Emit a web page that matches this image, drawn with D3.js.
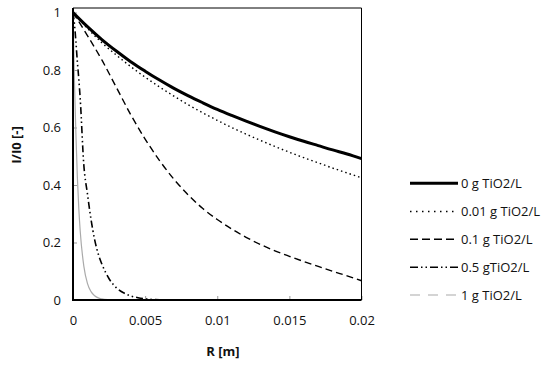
<!DOCTYPE html>
<html><head><meta charset="utf-8">
<script src="https://cdn.jsdelivr.net/npm/d3@7"></script>
<style>body{margin:0;background:#fff}svg{display:block}</style>
</head><body>
<svg id="c" width="550" height="365"></svg>
<script>
// ---- data ----
const rCoarse = [0,0.001,0.002,0.003,0.004,0.005,0.006,0.007,0.008,0.009,0.010,0.011,0.012,0.013,0.014,0.015,0.016,0.017,0.018,0.019,0.020];
const s0   = [1.0,0.951,0.906,0.866,0.829,0.796,0.765,0.736,0.710,0.686,0.663,0.642,0.622,0.603,0.585,0.568,0.552,0.537,0.522,0.508,0.492];
const s001 = [1.0,0.945,0.895,0.852,0.812,0.775,0.741,0.709,0.679,0.651,0.625,0.600,0.577,0.555,0.534,0.514,0.495,0.477,0.459,0.442,0.425];
const s01  = [1.0,0.920,0.835,0.740,0.645,0.560,0.485,0.420,0.365,0.318,0.280,0.247,0.218,0.193,0.171,0.152,0.134,0.117,0.100,0.084,0.067];
const rFine = [0,0.0001,0.0002,0.0003,0.0004,0.0005,0.00075,0.001,0.00125,0.0015,0.00175,0.002,0.0025,0.003,0.0035,0.004,0.0045,0.005,0.006,0.008,0.010,0.012,0.014,0.016,0.018,0.020];
const s05  = [1.0,0.96,0.90,0.83,0.77,0.70,0.47,0.37,0.28,0.21,0.16,0.125,0.074,0.043,0.025,0.014,0.008,0.004,0.001,0,0,0,0,0,0,0];
const s1   = [1.0,0.76,0.58,0.43,0.32,0.24,0.118,0.058,0.029,0.015,0.0075,0.004,0.0012,0,0,0,0,0,0,0,0,0,0,0,0,0];
const seriesNames = ["0 g TiO2/L","0.01 g TiO2/L","0.1 g TiO2/L","0.5 gTiO2/L","1 g TiO2/L"];
const xTicks = [0,0.005,0.01,0.015,0.02];
const xTickLabels = ["0","0.005","0.01","0.015","0.02"];
const yTicks = [0,0.2,0.4,0.6,0.8,1];
const yTickLabels = ["0","0.2","0.4","0.6","0.8","1"];

const series = [
  {name:seriesNames[0], r:rCoarse, v:s0,   color:"#000", w:3,   dash:null,          legDash:null},
  {name:seriesNames[1], r:rCoarse, v:s001, color:"#000", w:1.4, dash:"1.5,3",       legDash:"1.5,4.5"},
  {name:seriesNames[2], r:rCoarse, v:s01,  color:"#000", w:1.4, dash:"7,4",         legDash:"8,4"},
  {name:seriesNames[3], r:rFine,   v:s05,  color:"#000", w:1.6, dash:"7,3,1.5,3,1.5,3", legDash:"8,3,1.5,3,1.5,3"},
  {name:seriesNames[4], r:rFine,   v:s1,   color:"#aaaaaa", w:1.2, dash:null,     legDash:"10,8"}
];

const font = "'Open Sans', sans-serif";
const L=73, R=361.5, T=8, B=300;
const x = d3.scaleLinear().domain([0,0.02]).range([L,R]);
const y = d3.scaleLinear().domain([0,1.0157]).range([B,T]);
const svg = d3.select("#c");

// ticks inside
const gx = svg.append("g").attr("transform",`translate(0,${B})`)
  .call(d3.axisBottom(x).tickValues(xTicks).tickFormat((d,i)=>xTickLabels[i]).tickSizeInner(-4).tickSizeOuter(0).tickPadding(16));
gx.select(".domain").remove();
gx.selectAll("line").attr("stroke","#999");
gx.selectAll("text").attr("font-family",font).attr("font-size",13).attr("fill","#111");

const gy = svg.append("g").attr("transform",`translate(${L},0)`)
  .call(d3.axisLeft(y).tickValues(yTicks).tickFormat((d,i)=>yTickLabels[i]).tickSizeInner(-4).tickSizeOuter(0).tickPadding(12));
gy.select(".domain").remove();
gy.selectAll("line").attr("stroke","#999");
gy.selectAll("text").attr("font-family",font).attr("font-size",13).attr("fill","#111");

// lines
const line = d3.line().x(d=>x(d[0])).y(d=>y(d[1])).curve(d3.curveMonotoneX);
svg.append("clipPath").attr("id","clp").append("rect").attr("x",L).attr("y",T-2).attr("width",R-L).attr("height",B-T+2);
series.slice().reverse().forEach(s=>{
  const pts = s.r.map((r,i)=>[r,s.v[i]]);
  svg.append("path").datum(pts).attr("d",line).attr("fill","none")
    .attr("stroke",s.color).attr("stroke-width",s.w)
    .attr("stroke-dasharray",s.dash).attr("clip-path","url(#clp)");
});

// frame
svg.append("line").attr("x1",L).attr("x2",R).attr("y1",T).attr("y2",T).attr("stroke","#000").attr("stroke-width",1);
svg.append("line").attr("x1",R).attr("x2",R).attr("y1",T).attr("y2",B).attr("stroke","#000").attr("stroke-width",1);
svg.append("line").attr("x1",L).attr("x2",L).attr("y1",T).attr("y2",B+1).attr("stroke","#000").attr("stroke-width",2);
svg.append("line").attr("x1",L-1).attr("x2",R).attr("y1",B).attr("y2",B).attr("stroke","#000").attr("stroke-width",2);

// axis titles
svg.append("text").attr("x",223).attr("y",356).attr("text-anchor","middle")
  .attr("font-family",font).attr("font-size",13).attr("font-weight","bold").attr("fill","#111").text("R [m]");
svg.append("text").attr("transform","translate(21,145) rotate(-90)").attr("text-anchor","middle")
  .attr("font-family",font).attr("font-size",13).attr("font-weight","bold").attr("fill","#111").text("I/I0 [-]");

// legend
const legY = [183.3,211.5,239.3,267.3,295];
series.forEach((s,i)=>{
  svg.append("line").attr("x1",410).attr("x2",458).attr("y1",legY[i]).attr("y2",legY[i])
    .attr("stroke",s.color).attr("stroke-width",s.w).attr("stroke-dasharray",s.legDash);
  svg.append("text").attr("x",461).attr("y",legY[i]+4.5).attr("font-family",font).attr("font-size",13)
    .attr("fill","#111").text(s.name);
});
</script>
</body></html>
